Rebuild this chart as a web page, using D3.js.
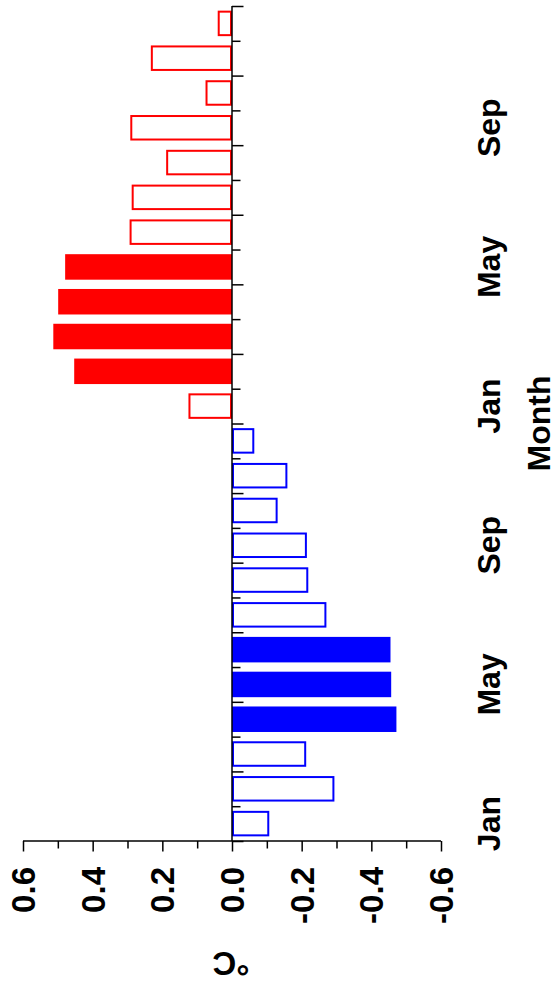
<!DOCTYPE html>
<html>
<head>
<meta charset="utf-8">
<script src="https://cdn.jsdelivr.net/npm/d3@7/dist/d3.min.js"></script>
<style>
  html, body { margin: 0; padding: 0; background: #fff; }
  svg { display: block; }
  text { font-family: "Liberation Sans", Arial, Helvetica, sans-serif; font-weight: bold; fill: #000; }
</style>
</head>
<body>
<svg id="chart" width="558" height="983"></svg>
<script>
// ---- Data ----
const months = ["Jan","Feb","Mar","Apr","May","Jun","Jul","Aug","Sep","Oct","Nov","Dec"];
const tempYear1 = [-0.107, -0.294, -0.213, -0.472, -0.457, -0.455, -0.271, -0.219, -0.215, -0.131, -0.159, -0.064];
const tempYear2 = [0.125, 0.453, 0.513, 0.499, 0.479, 0.294, 0.288, 0.189, 0.292, 0.076, 0.233, 0.041];
const filledYear1 = [false, false, false, true, true, true, false, false, false, false, false, false];
const filledYear2 = [false, true, true, true, true, false, false, false, false, false, false, false];
const valueTicks = [0.6, 0.4, 0.2, 0.0, -0.2, -0.4, -0.6];
const valueMinorTicks = [0.5, 0.3, 0.1, -0.1, -0.3, -0.5];
const monthTickLabels = ["Jan", "May", "Sep"];
const colorYear1 = "#0000ff";
const colorYear2 = "#ff0000";

// Build combined series
const bars = [];
months.forEach((m, i) => bars.push({idx: i, month: m, value: tempYear1[i], filled: filledYear1[i], color: colorYear1}));
months.forEach((m, i) => bars.push({idx: 12 + i, month: m, value: tempYear2[i], filled: filledYear2[i], color: colorYear2}));

const svg = d3.select("#chart");

// ---- Scales ----
const yTop = 6, yBottom = 841;
const xScale = d3.scaleLinear().domain([0.6, -0.6]).range([23, 441]);
const yBand = d3.scaleBand().domain(d3.range(24)).range([yBottom, yTop]).paddingInner(0.267).paddingOuter(0.1335);
const yLin = d3.scaleLinear().domain([0, 24]).range([yBottom, yTop]);

const x0 = xScale(0);

// ---- Bars ----
const g = svg.append("g");
bars.forEach(d => {
  const xv = xScale(d.value);
  const y0 = yBand(d.idx);
  const h = yBand.bandwidth();
  const left = Math.min(x0, xv), right = Math.max(x0, xv);
  if (d.filled) {
    g.append("rect").attr("x", left).attr("y", y0).attr("width", right - left).attr("height", h)
      .attr("fill", d.color);
  } else {
    g.append("rect").attr("x", left + 1).attr("y", y0 + 1).attr("width", Math.max(0, right - left - 2)).attr("height", h - 2)
      .attr("fill", "none").attr("stroke", d.color).attr("stroke-width", 2);
  }
});

// ---- Value axis (bottom) ----
const axMinor = d3.axisBottom(xScale).tickValues(valueMinorTicks).tickSize(7.5).tickFormat("");
const axMajor = d3.axisBottom(xScale).tickValues(valueTicks).tickSize(10.5).tickFormat("");
const gMinor = svg.append("g").attr("transform", `translate(0,${yBottom})`).call(axMinor);
const gMajor = svg.append("g").attr("transform", `translate(0,${yBottom})`).call(axMajor);
[gMinor, gMajor].forEach(a => {
  a.selectAll("line").attr("stroke", "#000").attr("stroke-width", 1.5);
  a.select(".domain").remove();
});
svg.append("line").attr("x1", xScale(0.6)).attr("x2", xScale(-0.6)).attr("y1", yBottom).attr("y2", yBottom)
  .attr("stroke", "#000").attr("stroke-width", 1.5);

svg.append("g").selectAll("text").data(valueTicks).join("text")
  .attr("transform", d => `translate(${xScale(d) + 12},867) rotate(-90)`)
  .attr("text-anchor", "end")
  .style("font-size", "33px")
  .text(d => d.toFixed(1));

// ---- Month axis (vertical at zero) ----
const boundaries = d3.range(0, 25);
const axMonthLong = d3.axisRight(yLin).tickValues(boundaries.filter(k => k % 2 === 0)).tickSize(11.5).tickFormat("");
const axMonthShort = d3.axisRight(yLin).tickValues(boundaries.filter(k => k % 2 === 1)).tickSize(8.5).tickFormat("");
[axMonthLong, axMonthShort].forEach(ax => {
  const a = svg.append("g").attr("transform", `translate(${x0},0)`).call(ax);
  a.selectAll("line").attr("stroke", "#000").attr("stroke-width", 1.5);
  a.select(".domain").remove();
});
svg.append("line").attr("x1", x0).attr("x2", x0).attr("y1", yTop).attr("y2", yBottom)
  .attr("stroke", "#000").attr("stroke-width", 1.5);

// Month labels
const labelBars = bars.filter(d => monthTickLabels.includes(d.month));
svg.append("g").selectAll("text").data(labelBars).join("text")
  .attr("transform", d => `translate(500,${yBand(d.idx) + yBand.bandwidth() / 2}) rotate(-90)`)
  .attr("text-anchor", "middle")
  .style("font-size", "32px")
  .text(d => d.month);

// Axis titles
svg.append("text")
  .attr("transform", `translate(550,${(yTop + yBottom) / 2}) rotate(-90)`)
  .attr("text-anchor", "middle")
  .style("font-size", "32px")
  .text("Month");

svg.append("text")
  .attr("transform", `translate(231,952) rotate(180)`)
  .attr("text-anchor", "middle")
  .style("font-size", "33px")
  .text("°C");
</script>
</body>
</html>
